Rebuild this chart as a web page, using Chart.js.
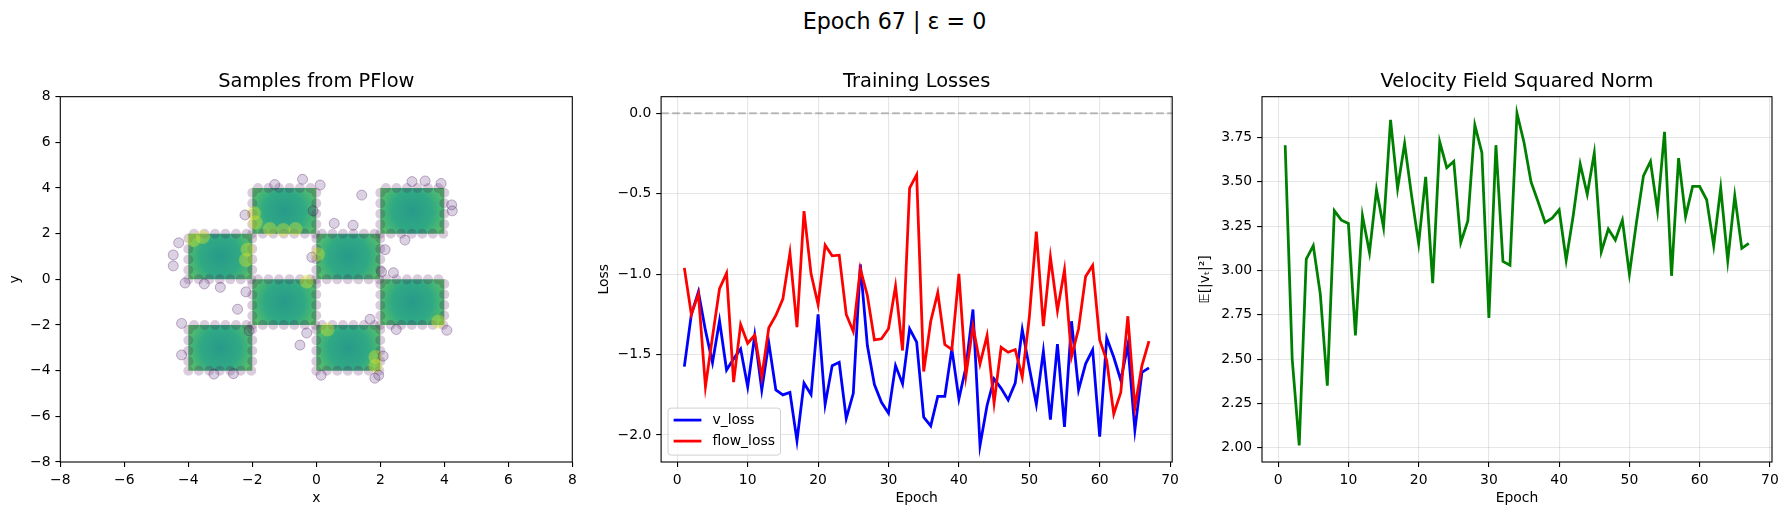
<!DOCTYPE html>
<html>
<head>
<meta charset="utf-8">
<script src="https://cdn.jsdelivr.net/npm/chart.js@4.4.1/dist/chart.umd.min.js"></script>
<style>
  body { margin: 0; background: #fff; width: 1789px; height: 515px; overflow: hidden; position: relative; font-family: 'DejaVu Sans', sans-serif; }
  #suptitle { position: absolute; left: 0; top: 8px; width: 1789px; text-align: center; font-size: 22.2px; line-height: 26px; color: #000; }
  .panel { position: absolute; top: 0; height: 515px; }
</style>
</head>
<body>
<div id="suptitle">Epoch 67 | ε = 0</div>
<div class="panel" style="left:0;width:590px"><canvas id="samples"></canvas></div>
<div class="panel" style="left:590px;width:600px"><canvas id="losses"></canvas></div>
<div class="panel" style="left:1190px;width:599px"><canvas id="norm"></canvas></div>
<script>
// ---- data ----
const epochs = [1, 2, 3, 4, 5, 6, 7, 8, 9, 10, 11, 12, 13, 14, 15, 16, 17, 18, 19, 20,
  21, 22, 23, 24, 25, 26, 27, 28, 29, 30, 31, 32, 33, 34, 35, 36, 37, 38, 39, 40,
  41, 42, 43, 44, 45, 46, 47, 48, 49, 50, 51, 52, 53, 54, 55, 56, 57, 58, 59, 60,
  61, 62, 63, 64, 65, 66, 67];

const vLoss = [-1.575, -1.25, -1.11, -1.35, -1.55, -1.29, -1.596, -1.527, -1.465, -1.70,
  -1.382, -1.72, -1.427, -1.72, -1.751, -1.735, -2.036, -1.678, -1.749, -1.251,
  -1.81, -1.569, -1.548, -1.897, -1.741, -0.94, -1.444, -1.687, -1.797, -1.865,
  -1.569, -1.683, -1.34, -1.423, -1.89, -1.944, -1.76, -1.76, -1.465, -1.776,
  -1.579, -1.22, -2.065, -1.817, -1.651, -1.71, -1.782, -1.678, -1.345, -1.58,
  -1.81, -1.48, -1.905, -1.436, -1.95, -1.293, -1.72, -1.558, -1.471, -2.01,
  -1.398, -1.517, -1.66, -1.44, -1.969, -1.61, -1.583];

const flowLoss = [-0.961, -1.251, -1.123, -1.70, -1.39, -1.09, -0.994, -1.672, -1.313, -1.43,
  -1.38, -1.64, -1.334, -1.257, -1.154, -0.869, -1.33, -0.608, -0.998, -1.189,
  -0.82, -0.886, -0.882, -1.251, -1.357, -0.967, -1.133, -1.409, -1.402, -1.34,
  -1.075, -1.475, -0.465, -0.382, -1.606, -1.293, -1.116, -1.438, -1.469, -0.998,
  -1.631, -1.324, -1.558, -1.382, -1.801, -1.455, -1.486, -1.469, -1.641, -1.27,
  -0.735, -1.324, -0.894, -1.226, -0.973, -1.512, -1.34, -1.015, -0.946, -1.409,
  -1.538, -1.87, -1.735, -1.262, -1.83, -1.569, -1.417];

const velocityNorm = [3.707, 2.50, 2.013, 3.064, 3.14, 2.867, 2.35, 3.337, 3.284, 3.265,
  2.633, 3.309, 3.102, 3.455, 3.243, 3.85, 3.463, 3.716, 3.421, 3.153,
  3.528, 2.929, 3.726, 3.58, 3.615, 3.158, 3.28, 3.82, 3.665, 2.732,
  3.707, 3.051, 3.03, 3.887, 3.722, 3.50, 3.388, 3.271, 3.295, 3.342,
  3.059, 3.309, 3.60, 3.43, 3.662, 3.106, 3.234, 3.172, 3.284, 2.98,
  3.27, 3.534, 3.615, 3.337, 3.782, 2.97, 3.634, 3.305, 3.474, 3.474,
  3.399, 3.14, 3.465, 3.055, 3.421, 3.125, 3.153];

const epochTicks = [0, 10, 20, 30, 40, 50, 60, 70];
const lossTicks = [-2.0, -1.5, -1.0, -0.5, 0.0];
const normTicks = [2.00, 2.25, 2.50, 2.75, 3.00, 3.25, 3.50, 3.75];
const sampleTicks = [-8, -6, -4, -2, 0, 2, 4, 6, 8];

// checkerboard cells holding the samples (lower-left corners)
const cellX0 = [-4, -2, 2, 0, -2, 2, -4, 0];
const cellY0 = [0, 2, 2, 0, -2, -2, -4, -4];
const cellSize = 2;

// stray samples outside the cells
const strayX = [-0.43, 1.42, 0.56, 1.15, -2.23, -4.47, -4.47, -2.46, -0.51, -0.14,
  2.09, 1.83, 1.95, 4.23, 4.25, 4.08, 2.41, 2.04, 1.68, 2.77,
  3.40, 2.99, -3.0, -3.5, -4.1, -4.21, -4.21, -2.59, -3.2, 0.12,
  -2.2, -2.1, -0.3, 0.15, 2.15, -4.3, -1.3, 2.5, 3.9, -0.1];
const strayY = [4.38, 3.69, 2.45, 2.37, 2.82, 1.07, 0.59, -1.31, -2.88, 0.97,
  -3.36, -4.33, -4.2, 3.26, 3.0, -2.23, 0.29, 0.33, -1.75, 1.72,
  4.31, 4.28, -0.35, -0.2, -0.16, -1.93, -3.31, -4.13, -4.15, 4.13,
  -0.55, -2.25, -2.35, -4.2, 1.3, 1.6, 4.15, -2.2, 4.2, 3.0];

// dense (yellow) spots
const brightX = [-1.03, -0.65, -1.45, -1.95, -1.9, -3.84, -3.55, -2.15, -2.2, -0.3, 0.05, 3.81, 0.35, 1.85, 1.85];
const brightY = [2.16, 2.2, 2.2, 2.9, 2.5, 1.72, 1.85, 1.3, 0.85, -0.1, 1.1, -1.86, -2.2, -3.8, -3.4];

// ---- helpers ----
Chart.defaults.font.family = "'DejaVu Sans', sans-serif";
Chart.defaults.font.size = 13.9;
Chart.defaults.color = '#000';

const fmt = (v, d) => v.toFixed(d).replace('-', '\u2212');
const toPoints = (xs, ys) => xs.map((x, i) => ({x: x, y: ys[i]}));

function padRange(values) {
  const lo = Math.min(...values), hi = Math.max(...values);
  const m = (hi - lo) * 0.05;
  return [lo - m, hi + m];
}

function axis(o) {
  return {
    type: 'linear',
    min: o.range[0],
    max: o.range[1],
    afterBuildTicks: s => { s.ticks = o.ticks.map(v => ({value: v})); },
    afterFit: s => {
      if (s.isHorizontal()) s.height = o.size; else s.width = o.size;
    },
    ticks: {
      color: '#000', padding: 4.9, maxRotation: 0, minRotation: 0, autoSkip: false,
      callback: v => fmt(v, o.digits)
    },
    grid: {
      color: o.grid ? 'rgba(176,176,176,0.32)' : 'rgba(0,0,0,0)',
      lineWidth: 1.1, tickColor: '#000', tickLength: 4.9, tickWidth: 1.1
    },
    border: {display: false},
    title: {display: true, text: o.title, color: '#000', padding: o.titlePad}
  };
}

function baseOptions(o) {
  return {
    responsive: true,
    maintainAspectRatio: false,
    animation: false,
    layout: {padding: {left: 0, right: o.padRight, top: 0, bottom: 0}},
    plugins: {
      legend: {display: false},
      tooltip: {enabled: false},
      title: {
        display: true, text: o.title, fullSize: false, color: '#000',
        font: {size: 19.4, weight: 'normal'}, padding: {top: 70, bottom: 3.4}
      }
    },
    scales: {
      x: axis({range: o.xRange, ticks: o.xTicks, digits: 0, size: 53, grid: o.grid,
        title: o.xTitle, titlePad: {top: 0, bottom: 8.6}}),
      y: axis({range: o.yRange, ticks: o.yTicks, digits: o.yDigits, size: o.yWidth, grid: o.grid,
        title: o.yTitle, titlePad: {top: o.yTitlePad, bottom: 0}})
    }
  };
}

const framePlugin = {
  id: 'frame',
  afterDatasetsDraw(chart) {
    const {ctx, chartArea: a} = chart;
    ctx.save();
    ctx.strokeStyle = '#000';
    ctx.lineWidth = 1.1;
    ctx.strokeRect(a.left, a.top, a.right - a.left, a.bottom - a.top);
    ctx.restore();
  }
};

const zeroLine = {
  id: 'zeroLine',
  beforeDatasetsDraw(chart) {
    const {ctx, chartArea: a, scales} = chart;
    const py = scales.y.getPixelForValue(0);
    ctx.save();
    ctx.strokeStyle = 'rgba(128,128,128,0.5)';
    ctx.lineWidth = 2.08;
    ctx.setLineDash([7.7, 3.3]);
    ctx.beginPath();
    ctx.moveTo(a.left, py);
    ctx.lineTo(a.right, py);
    ctx.stroke();
    ctx.restore();
  }
};

const lossLegend = {
  id: 'lossLegend',
  afterDatasetsDraw(chart) {
    const {ctx, chartArea: a} = chart;
    const items = chart.data.datasets;
    ctx.save();
    ctx.font = "13.9px 'DejaVu Sans'";
    const textW = Math.max(...items.map(d => ctx.measureText(d.label).width));
    const pad = 5.6, handle = 27.8, gap = 11.1, row = 21;
    const w = pad + handle + gap + textW + pad;
    const h = 47;
    const x = a.left + 6.9, y = a.bottom - 6.9 - h;
    ctx.beginPath();
    ctx.roundRect(x, y, w, h, 3);
    ctx.fillStyle = 'rgba(255,255,255,0.8)';
    ctx.fill();
    ctx.strokeStyle = '#d0d0d0';
    ctx.lineWidth = 1;
    ctx.stroke();
    items.forEach((d, i) => {
      const cy = y + 12 + row * i;
      ctx.strokeStyle = d.borderColor;
      ctx.lineWidth = 2.78;
      ctx.beginPath();
      ctx.moveTo(x + pad, cy);
      ctx.lineTo(x + pad + handle, cy);
      ctx.stroke();
      ctx.fillStyle = '#000';
      ctx.textBaseline = 'middle';
      ctx.fillText(d.label, x + pad + handle + gap, cy);
    });
    ctx.restore();
  }
};

function cellFill(chart, i) {
  const sx = chart.scales.x, sy = chart.scales.y;
  if (!chart.chartArea || !sx || !sy) return '#2ea585';
  const cx = sx.getPixelForValue(cellX0[i] + cellSize / 2);
  const cy = sy.getPixelForValue(cellY0[i] + cellSize / 2);
  const rx = Math.abs(sx.getPixelForValue(cellX0[i] + cellSize) - sx.getPixelForValue(cellX0[i])) / 2;
  const ry = Math.abs(sy.getPixelForValue(cellY0[i] + cellSize) - sy.getPixelForValue(cellY0[i])) / 2;
  const g = chart.ctx.createRadialGradient(cx, cy, 0, cx, cy, Math.hypot(rx, ry));
  g.addColorStop(0, '#289a8a');
  g.addColorStop(0.5, '#2fa984');
  g.addColorStop(1, '#62c663');
  return g;
}

// ---- samples panel ----
const cellSets = cellX0.map((x0, i) => {
  const y0 = cellY0[i], s = cellSize;
  return {
    type: 'line',
    data: [{x: x0, y: y0}, {x: x0 + s, y: y0}, {x: x0 + s, y: y0 + s}, {x: x0, y: y0 + s}, {x: x0, y: y0}],
    fill: 'shape',
    backgroundColor: ctx => cellFill(ctx.chart, i),
    borderColor: 'rgba(68,1,84,0.2)',
    borderWidth: 10,
    borderDash: [0, 10.5],
    borderCapStyle: 'round',
    borderJoinStyle: 'round',
    pointRadius: 0,
    tension: 0,
    order: 2
  };
});

new Chart(document.getElementById('samples'), {
  type: 'scatter',
  data: {
    datasets: cellSets.concat([
      {
        data: toPoints(brightX, brightY),
        backgroundColor: 'rgba(222,228,38,0.38)',
        borderWidth: 0,
        pointRadius: 7,
        order: 1
      },
      {
        data: toPoints(strayX, strayY),
        backgroundColor: 'rgba(72,30,112,0.2)',
        borderColor: 'rgba(68,1,84,0.3)',
        borderWidth: 1,
        pointRadius: 5,
        order: 0
      }
    ])
  },
  options: baseOptions({
    title: 'Samples from PFlow', xTitle: 'x', yTitle: 'y',
    xRange: [-8, 8], yRange: [-8, 8], xTicks: sampleTicks, yTicks: sampleTicks,
    yDigits: 0, yWidth: 60.3, yTitlePad: 6.65, padRight: 17.7, grid: false
  }),
  plugins: [framePlugin]
});

// ---- training losses panel ----
new Chart(document.getElementById('losses'), {
  type: 'line',
  data: {
    datasets: [
      {label: 'v_loss', data: toPoints(epochs, vLoss), borderColor: '#0000ff', borderWidth: 2.78,
        pointRadius: 0, tension: 0, fill: false, order: 1},
      {label: 'flow_loss', data: toPoints(epochs, flowLoss), borderColor: '#ff0000', borderWidth: 2.78,
        pointRadius: 0, tension: 0, fill: false, order: 0}
    ]
  },
  options: baseOptions({
    title: 'Training Losses', xTitle: 'Epoch', yTitle: 'Loss',
    xRange: padRange(epochs), yRange: padRange(vLoss.concat(flowLoss, [0])),
    xTicks: epochTicks, yTicks: lossTicks,
    yDigits: 1, yWidth: 71.1, yTitlePad: 6.35, padRight: 17.8, grid: true
  }),
  plugins: [zeroLine, framePlugin, lossLegend]
});

// ---- velocity field norm panel ----
new Chart(document.getElementById('norm'), {
  type: 'line',
  data: {
    datasets: [
      {label: 'norm', data: toPoints(epochs, velocityNorm), borderColor: '#008000', borderWidth: 2.78,
        pointRadius: 0, tension: 0, fill: false}
    ]
  },
  options: baseOptions({
    title: 'Velocity Field Squared Norm', xTitle: 'Epoch', yTitle: '𝔼[|vₜ|²]',
    xRange: padRange(epochs), yRange: padRange(velocityNorm),
    xTicks: epochTicks, yTicks: normTicks,
    yDigits: 2, yWidth: 72, yTitlePad: 6.65, padRight: 17, grid: true
  }),
  plugins: [framePlugin]
});
</script>
</body>
</html>
